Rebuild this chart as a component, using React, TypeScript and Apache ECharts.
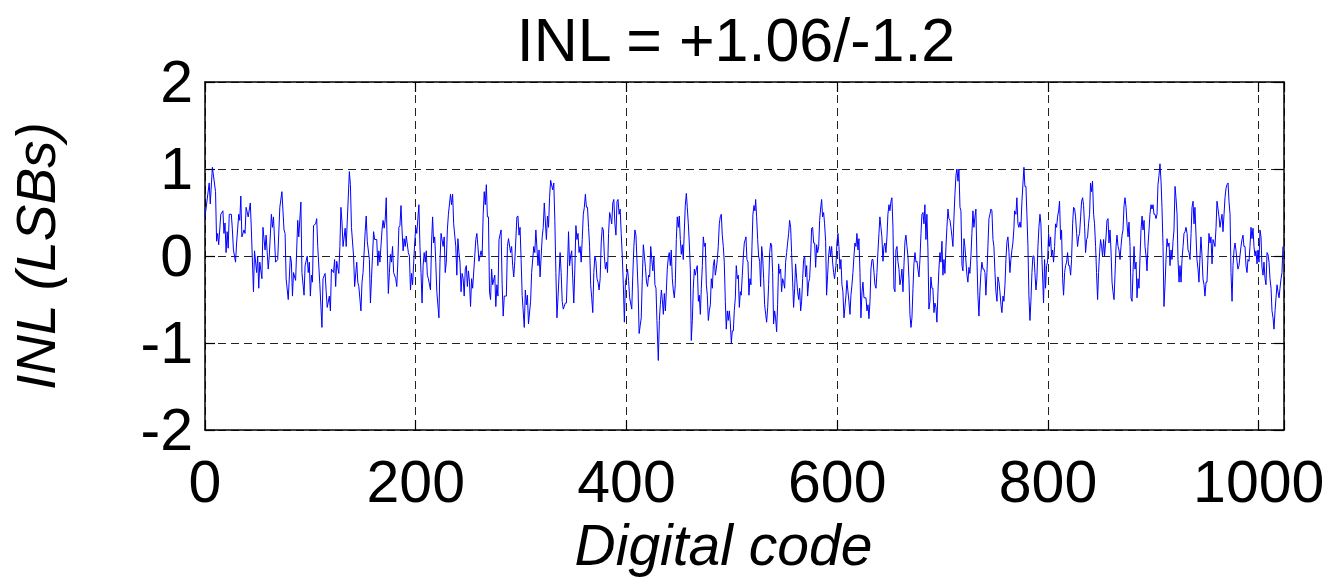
import React, { useEffect, useRef } from "react";
import * as echarts from "echarts";

// INL of the converter, [digital code, INL in LSBs]
const inlCodes0: [number, number][] = [
  [0, 0.45], [4, 0.84], [5, 0.6], [7, 1.02], [10, 0.74], [11, 0.17], [12, 0.26], [13, 0.13], [15, 0.48], [17, 0.52],
  [18, 0.26], [19, 0.38], [20, 0.04], [21, 0.28], [22, 0.09], [23, 0.48], [25, 0.48], [26, 0.3], [27, 0.07], [29, -0.07],
  [30, 0.15], [32, 0.48], [33, 0.41], [34, 0.69], [35, 0.22], [37, 0.3], [38, 0.26], [39, 0.56], [41, 0.45], [43, 0.61],
  [44, 0.3], [46, -0.41], [47, 0.06], [49, -0.19], [50, 0], [51, -0.37], [52, -0.07], [54, -0.26], [55, 0.33], [57, 0.07],
  [58, 0.24], [60, -0.15], [61, 0], [63, 0.48], [64, 0.33], [65, 0.45], [67, -0.07], [69, -0.04], [71, 0.56], [73, 0.74],
  [75, 0.3], [76, 0.26], [77, -0.26], [79, -0.5], [81, 0], [82, -0.07], [83, -0.46], [84, -0.19],
  [86, -0.28], [88, 0.41], [89, 0.22], [91, 0.62], [92, -0.19], [94, -0.45], [95, -0.11], [97, 0], [98, -0.19], [99, -0.07],
  [100, -0.46], [101, -0.22], [102, -0.3], [103, 0.35], [105, 0.37], [106, 0.43], [107, 0.11], [109, -0.33], [111, -0.82], [112, -0.26],
  [114, -0.2], [115, -0.41], [116, -0.59], [118, -0.46], [119, -0.63], [120, -0.15], [122, -0.19], [123, -0.04], [124, -0.35], [125, -0.06],
  [127, -0.2], [128, 0.11], [129, 0.56], [130, 0.39], [131, 0.11], [133, 0.32], [134, 0.11], [137, 0.97], [138, 0.82], [139, 0.33],
  [141, 0], [142, -0.35], [144, -0.07], [145, -0.3], [146, -0.35], [148, -0.63], [149, -0.3], [150, -0.19], [152, 0.28], [153, 0.46],
  [154, 0.17], [156, -0.04], [157, -0.54], [158, -0.26], [160, 0.28], [161, 0.19], [163, 0.19], [164, -0.11], [165, 0.06], [166, -0.07],
  [168, 0.3], [169, 0.41], [170, 0.32],
  [171, 0.41], [172, 0.67], [173, 0.07], [174, -0.43], [175, -0.19], [176, 0.02], [177, -0.07], [178, 0.11], [179, -0.19], [181, -0.26],
  [182, -0.35], [183, -0.07], [184, 0.33], [185, 0.35], [186, 0.58], [187, 0.3], [188, 0.06], [189, 0.2], [190, 0.11], [191, 0.23],
  [193, 0.04], [194, 0], [195, -0.39], [196, -0.2], [197, -0.33], [199, 0.15], [200, 0.33], [201, 0.26], [203, 0.59], [204, 0.11],
  [205, -0.19], [206, -0.54], [207, -0.11], [208, 0.04], [209, -0.07], [210, 0.06], [211, -0.22], [212, -0.26], [214, -0.39], [215, 0.15],
  [216, 0.45], [217, 0.15], [218, 0.22], [219, -0.07], [220, -0.41], [222, -0.71], [223, -0.07], [224, 0.26], [226, 0.11], [227, 0.22],
  [228, -0.19], [229, -0.07], [230, 0.3], [231, 0.48], [233, 0.71], [234, 0.59], [235, 0.71], [236, 0.37], [238, 0.11], [239, -0.22],
  [240, 0.2], [241, 0.04], [242, -0.07], [243, -0.41], [244, -0.2], [245, -0.26], [246, -0.46], [247, -0.15], [248, -0.11], [249, -0.35],
  [250, -0.17], [251, -0.3], [252, -0.58], [253, -0.26], [254, -0.37], [256, 0],
];

const inlCodes256: [number, number][] = [
  [257, 0.19], [258, 0.26], [259, 0.11], [260, -0.06], [262, 0.06], [263, 0], [264, 0.48], [265, 0.74], [266, 0.59], [267, 0.82],
  [268, 0.45], [269, 0.45], [270, -0.41], [271, -0.5], [272, -0.15], [273, -0.33], [275, -0.22], [276, -0.58], [277, -0.33], [278, -0.46],
  [279, 0.19], [281, 0.3], [282, -0.33], [283, -0.69], [284, -0.46], [286, -0.46], [287, 0.11], [288, 0.2], [290, 0.04], [291, 0.11],
  [292, -0.11], [293, -0.24], [294, -0.06], [296, 0.45], [297, 0.46], [298, 0.24], [299, 0.33], [300, -0.04], [301, -0.45], [303, -0.82],
  [304, -0.39], [305, -0.56], [306, -0.45], [307, -0.78], [309, -0.52], [310, -0.19], [312, 0.11], [313, 0.04], [314, 0.3], [316, -0.11],
  [317, 0.07], [318, -0.24], [320, 0.22], [321, 0.33], [322, 0.61], [324, 0.19], [325, 0.46], [326, 0.33], [327, 0.67], [328, 0.87],
  [330, 0.76], [331, 0.84], [332, 0.41], [333, -0.19], [334, -0.71], [335, -0.48], [337, 0.04], [338, -0.19], [339, -0.52], [340, -0.61],
  [342, -0.54],
  [343, -0.54], [344, -0.15], [345, 0.28], [346, -0.11], [347, 0], [348, 0.06], [349, -0.26], [350, -0.54], [351, -0.15], [352, 0.35],
  [353, 0.19], [354, 0.26], [355, 0.04], [356, 0.11], [357, -0.07], [358, 0.19], [359, 0.48], [360, 0.56], [361, 0.71], [362, 0.56],
  [363, 0.56], [364, 0.33], [365, 0.11], [366, -0.33], [367, -0.48], [368, -0.65], [369, -0.19], [370, 0], [371, -0.06], [372, -0.26],
  [373, -0.3], [374, -0.39], [375, -0.26], [376, 0.15], [377, 0.33], [378, 0.3], [379, 0], [380, -0.15], [381, -0.07], [382, -0.19],
  [383, 0.26], [384, 0.5], [385, 0.45], [386, 0.37], [387, 0.61], [388, 0.65], [389, 0.37], [390, 0.24], [391, 0.63], [392, 0.65],
  [393, 0.48], [394, 0.54], [395, 0.26], [396, 0], [397, -0.33], [398, -0.76], [399, -0.3], [400, -0.24], [401, -0.15], [402, -0.28],
  [403, -0.48], [405, -0.61], [406, -0.22], [407, 0.11], [408, 0.3], [409, 0.24], [410, -0.07], [411, -0.37], [412, -0.89], [413, -0.8],
  [414, -0.71], [415, -0.26], [416, 0.13], [417, 0], [418, -0.13], [419, -0.3], [420, -0.35], [421, -0.22], [422, -0.24], [423, 0.11],
  [424, -0.04], [425, -0.17], [426, 0],
  [427, -0.33], [428, -0.37], [428.9, -0.74], [430.2, -1.2], [431.2, -0.74], [432.1, -0.56], [433.1, -0.39], [434, -0.5], [435, -0.67], [435.9, -0.43],
  [436.9, -0.63], [437.8, -0.41], [438.7, -0.15], [439.7, -0.02], [440.6, 0.04], [441.6, -0.11], [442.5, 0.07], [443.5, -0.26], [444.4, -0.39], [445.4, -0.48],
  [446.3, -0.33], [447.3, 0.19], [448.2, 0.45], [449.2, 0.33], [450.1, 0.46], [451.1, 0.19], [452, 0.02], [453, 0.13], [453.9, -0.04], [454.9, 0.3],
  [455.8, 0.58], [456.8, 0.72], [457.7, 0.56], [458.7, 0.37], [459.6, 0.15], [460.6, -0.15], [461.5, -0.97], [462.5, -0.74], [463.4, -0.37], [464.4, -0.15],
  [465.3, -0.22], [466.3, -0.15], [467.2, -0.11], [468.2, -0.52], [469.1, -0.45], [470.1, -0.67], [471, -0.37], [472, -0.11], [472.9, 0.22], [473.9, 0.11],
  [474.8, 0.15], [475.8, -0.33], [476.7, -0.45], [477.7, -0.74], [478.6, -0.63], [479.6, -0.56], [480.5, -0.26], [481.5, -0.37], [482.4, -0.11], [483.4, -0.04],
  [484.3, -0.22], [485.2, -0.15], [486.2, -0.04], [487.1, 0.11], [488.1, 0.37], [489, 0.45], [490, 0.48], [490.9, 0.24], [491.9, 0.11], [492.8, -0.07],
  [493.8, -0.52], [494.7, -0.84], [495.7, -0.63], [496.6, -0.74], [497.6, -0.63], [498.5, -0.76], [499.5, -1.0], [500.4, -0.86], [501.4, -0.86], [502.3, -0.63],
  [503.3, -0.48], [504.2, -0.11], [505.2, -0.26], [506.1, -0.22], [507.1, -0.59], [508, -0.41], [508.9, -0.45], [509.9, -0.22], [510.9, 0], [511.8, 0.15],
];

const inlCodes512: [number, number][] = [
  [512.4, 0.15], [513.4, 0.22], [514.3, -0.04], [515.3, -0.07], [516.2, -0.45], [517.2, -0.26], [518.1, -0.33], [519.1, 0.11], [520, 0.48], [521, 0.58],
  [521.9, 0.52], [522.6, 0.65], [523.5, 0.45], [524.5, 0.19], [525.4, 0], [526.4, -0.06], [527.3, -0.35], [528.3, 0.11], [529.2, 0], [530.2, -0.26],
  [531.1, -0.56], [532.1, -0.67], [533, -0.76], [534, -0.59], [534.9, -0.33], [535.9, 0.04], [536.8, 0.15], [537.7, 0.13], [538.7, -0.19], [539.6, -0.78],
  [540.6, -0.63], [541.5, -0.71], [542.5, -0.87], [543.4, -0.56], [544.4, -0.09], [545.3, -0.2], [546.3, -0.15], [547.2, -0.41], [548.2, -0.26], [549.1, -0.3],
  [550.1, -0.37], [551, -0.07], [552, 0.04], [552.9, 0.15], [553.9, 0.26], [554.8, 0.41], [555.8, 0.33], [556.7, 0.04], [557.7, -0.3], [558.6, -0.59],
  [559.6, -0.37], [560.5, -0.09], [561.5, -0.26], [562.4, -0.41], [563.4, -0.5], [564.3, -0.37], [565.3, -0.63], [566.2, -0.52], [567.2, -0.26], [568.1, -0.04],
  [569.1, 0], [570, -0.24], [571, -0.11], [571.9, -0.46], [572.9, -0.3], [573.8, -0.26], [574.8, 0], [575.7, 0.32], [576.7, 0.33], [577.6, 0.15],
  [578.6, 0.15], [579.5, -0.13], [580.5, 0.13], [581.4, 0.04], [582.4, 0.11], [583.3, 0.41], [584.2, 0.54], [585.2, 0.65], [586.1, 0.45], [587.1, 0.5],
  [588, 0.37], [589, 0.17], [589.9, -0.45], [590.9, -0.22], [591.8, 0], [592.8, 0.11], [593.7, 0], [594.7, 0.11], [595.6, -0.07], [596.6, -0.19],
  [597.5, -0.26], [598.8, -0.11], [599.7, 0.15], [600.7, 0.26], [601.6, 0.11], [602.6, -0.15], [603.5, -0.04], [604.5, -0.33], [605.4, -0.41], [606.4, -0.71],
  [607.3, -0.59], [608.3, -0.45], [609.2, -0.28], [610.2, -0.41], [611.1, -0.52], [612.1, -0.67], [613, -0.45], [614, -0.33], [614.9, -0.19], [615.9, 0],
  [616.8, 0.15], [617.8, 0.11], [618.7, 0.26], [619.7, 0.07], [620.6, 0.2], [621.6, -0.19], [622.5, -0.71], [623.5, -0.41], [624.4, -0.3], [625.4, -0.48],
  [626.3, -0.48], [627.3, -0.48], [628.2, -0.63], [629.2, -0.56], [630.1, -0.72], [631.1, -0.52], [632, -0.15], [633, -0.04], [633.9, -0.04], [634.9, -0.19],
  [635.8, -0.33], [636.8, -0.37], [637.7, -0.19], [638.6, 0.04], [639.6, 0.26], [640.5, 0.45], [641.5, 0.33], [642.4, 0.22], [643.4, -0.06], [644.3, 0.11],
  [645.3, 0.15], [646.2, 0.04], [647.2, 0.22], [648.1, 0.48], [649.1, 0.59], [650, 0.52], [651, 0.63], [651.9, 0.67], [652.9, 0.33], [653.8, -0.37],
  [654.8, -0.41], [655.7, 0.07], [656.7, 0.11], [657.6, -0.06], [658.6, -0.15], [659.5, -0.33], [660.5, -0.26], [661.4, -0.15], [662.4, -0.41], [663.3, -0.11],
  [664.3, 0.17], [665.2, 0.24], [666.2, 0.11], [667.1, 0], [668.1, -0.26], [669, -0.67], [670, -0.82], [670.9, -0.71], [671.9, -0.37], [672.8, -0.09],
  [673.8, 0.04], [674.7, -0.07], [675.7, -0.06], [676.6, -0.15], [677.6, -0.24], [678.5, -0.04], [679.5, 0.26], [680.4, 0.48], [681.4, 0.5], [682.3, 0.37],
  [683.2, 0.59], [684.2, 0.19], [685.1, 0.48], [686.1, 0.07], [687, -0.61], [688, -0.52], [688.9, -0.24], [689.9, -0.37], [690.8, -0.37], [691.8, -0.65],
  [692.7, -0.54], [693.7, -0.59], [694.6, -0.76], [695.6, -0.41], [696.5, -0.15], [697.5, 0.04], [698.4, -0.07], [699.4, 0.17], [700.3, -0.22], [701.3, -0.04],
  [702.2, -0.2], [703.2, 0.11], [704.1, 0.33], [705.1, 0.54], [706, 0.43], [707, 0.41], [707.9, 0.33], [708.9, 0.22], [709.8, 0.11], [710.8, 0.45],
  [711.7, 0.71], [712.7, 0.93], [713.6, 1.0], [714.6, 0.86], [715.5, 1.0], [716.5, 0.56], [717.4, 0.52], [718.4, -0.11], [719.3, -0.17], [720.3, 0.2],
  [721.2, 0.11], [722.2, -0.07], [723.1, -0.22], [724, -0.3], [725, -0.13], [725.9, -0.2], [726.9, 0], [727.8, 0.26], [728.8, 0.52], [729.7, 0.33],
  [730.7, 0.45], [731.6, 0.54], [732.6, -0.04], [733.5, -0.45], [734.5, -0.69], [735.4, -0.41], [736.4, -0.19], [737.3, -0.07], [738.3, -0.15], [739.2, -0.15],
  [740.2, -0.19], [741.1, -0.45], [742.1, -0.19], [743, 0.11], [744, 0.43], [744.9, 0.48], [745.9, 0.54], [746.8, 0.52], [747.8, 0.19], [748.7, 0.11],
  [749.7, -0.19], [750.6, -0.41], [751.6, -0.52], [752.5, -0.24], [753.5, -0.3], [754.4, -0.41], [755.4, -0.56], [756.3, -0.65], [757.3, -0.46], [758.2, -0.52],
  [759.2, -0.33], [760.1, -0.04], [761.1, 0.17], [762, 0.22], [763, 0.04], [763.9, -0.19], [764.8, -0.04], [765.8, 0.07], [766.7, 0.15], [767.7, 0.32],
];

const inlCodes768: [number, number][] = [
  [768.3, 0.52], [769.6, 0.48], [770.5, 0.67], [771.5, 0.37], [772.4, 0.33], [773.4, 0.39], [774.3, 0.33], [775.3, 0.63], [776.2, 0.82], [777.2, 1.02],
  [778.1, 0.8], [779.1, 0.8], [780, 0.48], [781, 0.11], [781.9, -0.45], [782.9, -0.74], [783.8, -0.52], [784.8, -0.19], [785.7, 0], [786.7, 0],
  [787.6, -0.19], [788.6, -0.39], [789.5, -0.26], [790.5, 0.11], [791.4, 0.33], [792.4, 0.48], [793.3, 0.37], [794.3, -0.04], [795.2, -0.33], [795.8, -0.54],
  [796.8, -0.04], [797.7, -0.37], [798.7, -0.11], [799.6, -0.07], [800.6, 0.26], [801.5, 0.11], [802.5, 0.22], [803.4, 0], [804.4, 0.07], [805.3, -0.07],
  [806.3, 0.11], [807.2, 0.37], [808.2, 0.33], [809.1, 0.45], [810.1, 0.52], [811, 0.63], [812, 0.19], [812.9, 0.3], [813.9, -0.26], [814.8, -0.45],
  [815.8, -0.19], [816.7, -0.11], [817.7, -0.07], [818.6, 0.04], [819.6, -0.11], [820.5, -0.11], [821.5, -0.22], [822.4, -0.04], [823.4, 0.37], [824.3, 0.56],
  [825.3, 0.54], [826.2, 0.45], [827.2, 0.26], [828.1, 0.11], [829.1, 0.22], [830, 0.26], [831, 0.45], [831.9, 0.63], [832.9, 0.67], [833.8, 0.58],
  [834.8, 0.33], [835.7, 0.04], [836.7, 0.19], [837.6, 0.22], [838.5, 0.37], [839.5, 0.48], [840.4, 0.84], [841.4, 0.74], [842.3, 0.86], [843.3, 0.48],
  [844.2, 0.37], [845.2, 0.11], [846.1, -0.19], [847.1, -0.5], [848, -0.19], [849, 0.04], [849.9, 0.19], [850.9, 0.11], [851.8, 0], [852.8, 0.19],
  [853.7, 0], [855.1, 0.22], [856, 0.41], [857, 0.43], [857.9, 0.15], [858.9, 0.3], [859.8, 0.07], [860.8, -0.3], [861.7, -0.41], [862.7, -0.5],
  [863.6, -0.22], [864.6, 0.11], [865.5, 0.24], [866.5, 0.11], [867.4, 0.07], [868.4, -0.04], [869.3, 0.11], [870.3, 0.24], [871.2, 0.3], [872.2, 0.58],
  [873.1, 0.67], [874.1, 0.56], [875, 0.37], [876, 0.22], [876.9, 0.39], [877.9, 0.11], [878.8, -0.48], [879.8, -0.52], [880.7, -0.19], [881.7, 0.11],
  [882.6, -0.15], [883.6, -0.07], [884.5, -0.48], [885.5, -0.26], [886.4, -0.37], [887.4, 0], [888.3, 0.3], [889.3, 0.46], [890.2, 0.3], [891.2, 0.41],
  [892.1, 0.11], [893.1, 0], [894, -0.17], [894.9, 0.11], [895.9, 0.3], [896.8, 0.48], [897.8, 0.59], [898.7, 0.54], [899.7, 0.59], [900.6, 0.48],
  [901.6, 0.48], [902.5, 0.43], [903.5, 0.48], [904.4, 0.82], [905.4, 0.93], [906.3, 1.06], [907.3, 0.86], [908.2, 0.56], [909.2, 0.11], [910.1, -0.58],
  [911.1, -0.33], [912, -0.04], [913, 0.2], [913.9, 0.11], [914.9, 0.15], [915.8, -0.11], [916.8, 0.07], [917.7, -0.04], [918.7, 0.17], [919.6, 0.3],
  [920.6, 0.8], [921.5, 0.67], [922.5, 0.48], [923.4, -0.04], [924.4, -0.3], [925.3, -0.11], [926.3, -0.3], [927.2, -0.04], [928.2, 0.11], [929.1, 0.26],
  [930.1, 0.28], [931, 0.33], [932, 0.26], [932.9, 0.07], [933.9, 0.04], [934.8, -0.04], [935.8, 0.26], [936.7, 0.56], [937.7, 0.63], [938.6, 0.37],
  [939.5, 0.56], [940.5, 0.24], [941.4, -0.04], [942.4, -0.15], [943.3, -0.3], [944.3, 0], [945.2, 0.22], [946.2, 0], [947.1, -0.26], [948.1, -0.33],
  [949, -0.46], [950, -0.3], [950.9, -0.3], [951.9, 0], [952.8, 0.26], [953.8, 0.15], [954.7, 0.22], [955.7, -0.09], [956.6, 0.19], [957.6, 0.15],
  [958.5, 0.11], [959.5, 0.33], [960.4, 0.63], [961.4, 0.54], [962.3, 0.45], [963.3, 0.33], [964.2, 0.41], [965.2, 0.48], [966.1, 0.28], [967.1, 0.48],
  [968, 0.67], [969, 0.78], [969.9, 0.82], [970.9, 0.84], [971.8, 0.63], [972.8, 0.48], [973.7, -0.19], [974.7, -0.52], [975.6, -0.11], [976.6, 0.07],
  [977.5, 0.15], [978.5, 0.06], [979.4, -0.06], [980.3, -0.15], [981.3, -0.11], [982.2, 0], [983.2, 0.11], [984.1, 0.19], [985.1, 0.24], [986, 0.11],
  [987, 0.11], [987.9, -0.11], [988.9, -0.19], [989.8, -0.04], [990.8, -0.06], [991.7, 0.11], [992.7, 0.33], [993.6, 0.2], [994.6, 0.32], [995.5, 0.11],
  [996.5, 0], [997.4, 0.06], [998.4, -0.09], [999.3, 0.07], [1000.3, -0.07], [1001.2, 0.3], [1002.2, 0.22], [1003.1, -0.13], [1004.1, -0.22], [1005, -0.07],
  [1006, -0.26], [1006.9, -0.33], [1007.9, 0.04], [1008.8, 0.02], [1009.8, -0.07], [1010.7, -0.26], [1011.7, -0.37], [1012.6, -0.63], [1013.6, -0.71], [1014.5, -0.84],
  [1015.5, -0.63], [1016.4, -0.48], [1017.4, -0.33], [1018.3, -0.41], [1019.3, -0.48], [1020.2, -0.37], [1021.2, -0.26], [1022.1, -0.19], [1023, 0.11],
];

const xTicks = [0, 200, 400, 600, 800, 1000];
const yTicks = [-2, -1, 0, 1, 2];
const titleText = "INL = +1.06/-1.2";
const xName = "Digital code";
const yName = "INL (LSBs)";

const FONT = "'Liberation Sans', Arial, Helvetica, sans-serif";

export default function App() {
  const ref = useRef<HTMLDivElement>(null);

  useEffect(() => {
    if (!ref.current) return;
    const chart = echarts.init(ref.current, undefined, { renderer: "svg" });
    const trace = [...inlCodes0, ...inlCodes256, ...inlCodes512, ...inlCodes768];

    const gridDash = { color: "#222", width: 1, type: [8, 5] as number[] };
    const boxLine = { show: true, onZero: false, lineStyle: { color: "#000", width: 1.5 } };
    const tickIn = { show: true, inside: true, length: 10, lineStyle: { color: "#000", width: 1.2 } };

    chart.setOption({
      animation: false,
      backgroundColor: "#fff",
      grid: { left: 205, right: 52, top: 82, bottom: 118, containLabel: false },
      graphic: [
        {
          type: "text",
          x: 736,
          y: 40,
          style: {
            text: titleText,
            fontSize: 61,
            fontFamily: FONT,
            fill: "#000",
            align: "center",
            verticalAlign: "middle",
          },
        },
      ],
      xAxis: [
        {
          type: "value",
          min: 0,
          max: 1024,
          interval: 200,
          position: "bottom",
          axisLine: boxLine,
          axisTick: tickIn,
          axisLabel: {
            fontSize: 59,
            fontFamily: FONT,
            color: "#000",
            margin: 22,
            formatter: (v: number) => (xTicks.includes(v) ? String(v) : ""),
          },
          splitLine: { show: true, lineStyle: gridDash },
          name: xName,
          nameLocation: "middle",
          nameGap: 78,
          nameTextStyle: {
            fontSize: 57,
            fontStyle: "italic",
            fontFamily: FONT,
            color: "#000",
            padding: [0, 42, 0, 0],
          },
        },
        {
          type: "value",
          min: 0,
          max: 1024,
          interval: 200,
          position: "top",
          axisLine: boxLine,
          axisTick: tickIn,
          axisLabel: { show: false },
          splitLine: { show: false },
        },
      ],
      yAxis: [
        {
          type: "value",
          min: -2,
          max: 2,
          interval: 1,
          position: "left",
          axisLine: boxLine,
          axisTick: tickIn,
          axisLabel: {
            fontSize: 59,
            fontFamily: FONT,
            color: "#000",
            margin: 12,
            formatter: (v: number) => (yTicks.includes(v) ? String(v) : ""),
          },
          splitLine: { show: true, lineStyle: gridDash },
          name: yName,
          nameLocation: "middle",
          nameGap: 142,
          nameTextStyle: { fontSize: 55, fontStyle: "italic", fontFamily: FONT, color: "#000" },
        },
        {
          type: "value",
          min: -2,
          max: 2,
          interval: 1,
          position: "right",
          axisLine: boxLine,
          axisTick: tickIn,
          axisLabel: { show: false },
          splitLine: { show: false },
        },
      ],
      series: [
        {
          type: "line",
          data: trace,
          xAxisIndex: 0,
          yAxisIndex: 0,
          showSymbol: false,
          symbol: "none",
          lineStyle: { color: "#0000ff", width: 1 },
          silent: true,
        },
      ],
    });

    return () => chart.dispose();
  }, []);

  return (
    <div
      ref={ref}
      style={{ position: "fixed", left: 0, top: 0, width: 1336, height: 578, background: "#fff" }}
    />
  );
}
